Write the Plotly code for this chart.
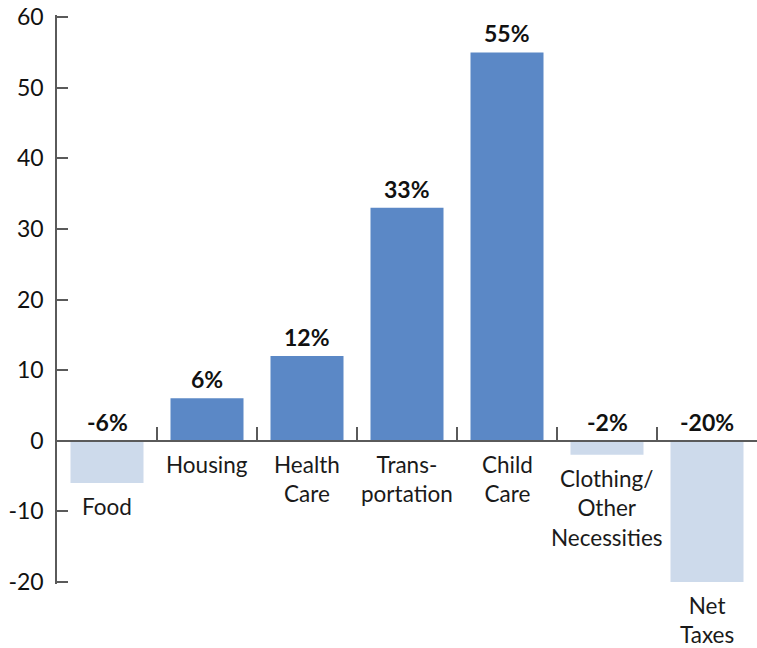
import plotly.graph_objects as go

# Change in cost by budget category (percent)
categories = ["Food", "Housing", "Health Care", "Transportation", "Child Care",
              "Clothing/Other Necessities", "Net Taxes"]
values = [-6, 6, 12, 33, 55, -2, -20]
category_labels = ["Food", "Housing", "Health<br>Care", "Trans-<br>portation",
                   "Child<br>Care", "Clothing/<br>Other<br>Necessities", "Net<br>Taxes"]
y_ticks = [-20, -10, 0, 10, 20, 30, 40, 50, 60]
y_tick_text = ["-20", "-10", "0", "10", "20", "30", "40", "50", "60"]

POS_COLOR = "#5b88c6"
NEG_COLOR = "#cddaeb"
AXIS_COLOR = "#5a5a5a"
FONT = "Lato"

# small padding so the end ticks at -20 and 60 are not clipped by plotly
Y_LO, Y_HI = -20.3, 60.3
zero_pos = (0 - Y_LO) / (Y_HI - Y_LO)

colors = [POS_COLOR if v >= 0 else NEG_COLOR for v in values]

fig = go.Figure()
fig.add_trace(go.Bar(
    x=categories, y=values, marker=dict(color=colors, line=dict(width=0)),
    width=0.73, hoverinfo="skip", xaxis="x", yaxis="y",
))

annotations = []
for cat, v, lab in zip(categories, values, category_labels):
    # bold value label above the bar top (or above the zero line for negatives)
    annotations.append(dict(
        x=cat, y=max(v, 0), xref="x", yref="y", text=f"<b>{v}%</b>",
        showarrow=False, yanchor="bottom", yshift=3,
        font=dict(family=FONT, size=23, color="#111111"),
    ))
    # category name below the zero line (or below the bar for negatives)
    annotations.append(dict(
        x=cat, y=min(v, 0), xref="x", yref="y", text=lab,
        showarrow=False, yanchor="top", yshift=-8,
        font=dict(family=FONT, size=22.5, color="#1a1a1a"),
    ))

fig.update_layout(
    width=757, height=648,
    margin=dict(l=57, r=0, t=15, b=64),
    paper_bgcolor="white", plot_bgcolor="white",
    showlegend=False,
    font=dict(family=FONT, size=22, color="#111111"),
    annotations=annotations,
    xaxis=dict(
        type="category", anchor="free", position=zero_pos,
        showline=True, linecolor=AXIS_COLOR, linewidth=1.5,
        ticks="inside", tickson="boundaries", ticklen=13, tickwidth=1.5,
        tickcolor=AXIS_COLOR, showticklabels=False, showgrid=False,
        zeroline=False, fixedrange=True,
    ),
    yaxis=dict(
        range=[Y_LO, Y_HI], tickvals=y_ticks, ticktext=y_tick_text,
        showline=True, linecolor=AXIS_COLOR, linewidth=1.5,
        ticks="inside", ticklen=11, tickwidth=1.5, tickcolor=AXIS_COLOR,
        ticklabelstandoff=7,
        showgrid=False, zeroline=False,
        tickfont=dict(family=FONT, size=23, color="#111111"),
        fixedrange=True,
    ),
)

fig.write_html("out.html")
